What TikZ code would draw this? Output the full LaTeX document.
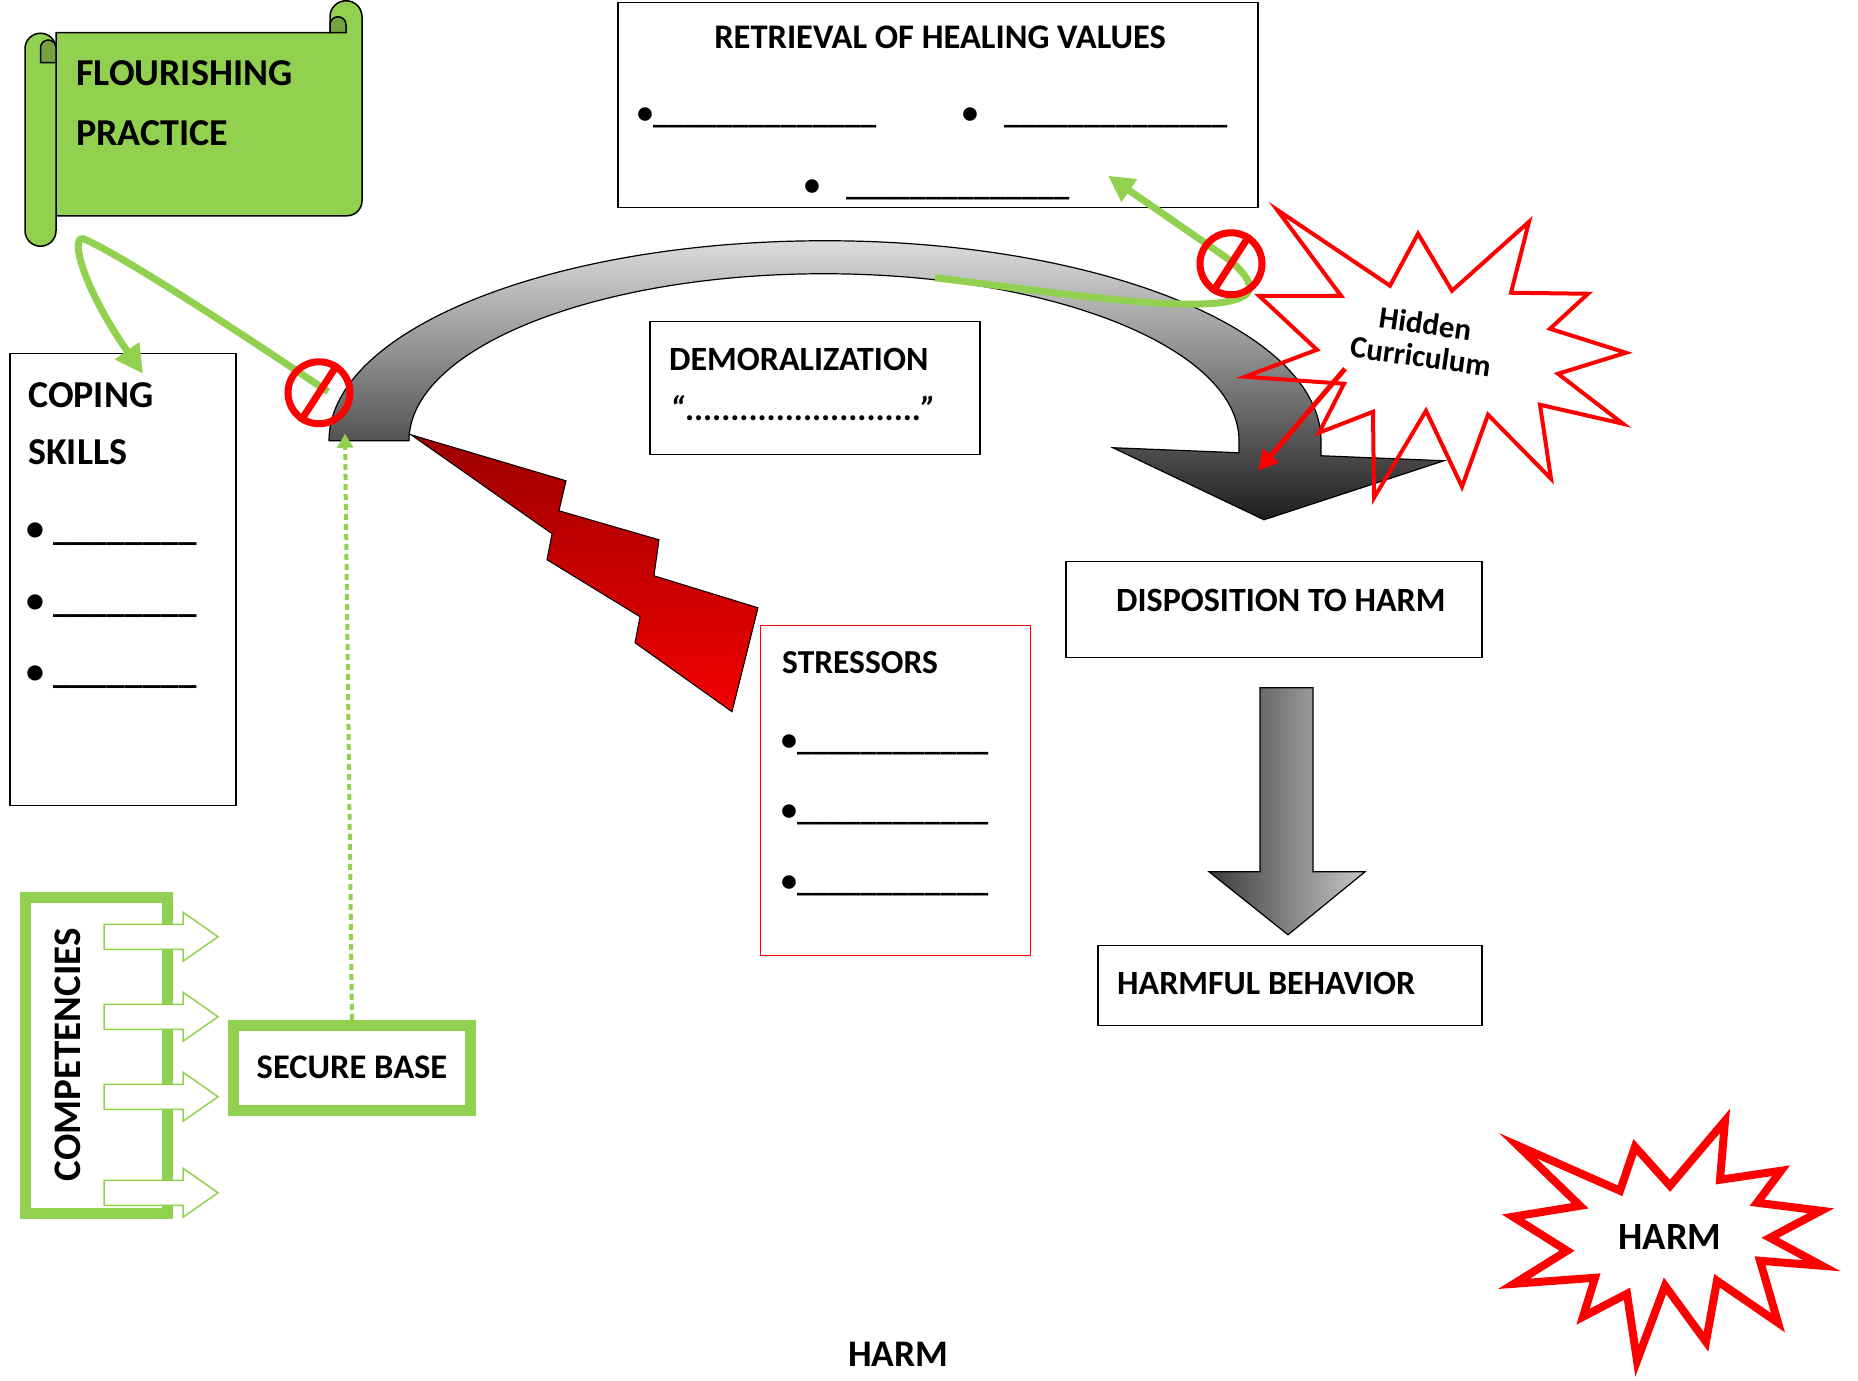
\documentclass[tikz,border=0pt]{standalone}
\usepackage{fontspec}
\setmainfont{Carlito}
\usetikzlibrary{arrows.meta,positioning}
\definecolor{leaf}{HTML}{92D050}
\definecolor{leafdark}{HTML}{76A340}
\definecolor{arctop}{HTML}{DCDCDC}
\definecolor{arcbot}{HTML}{1E1E1E}
\definecolor{boltdark}{HTML}{9E0000}
\definecolor{boltlight}{HTML}{F20000}
\definecolor{dgl}{HTML}{3C3C3C}
\definecolor{dgr}{HTML}{C8C8C8}
\newcommand{\blanks}[1]{\foreach \bj in {1,...,#1}{\_}}

\begin{document}
\begin{tikzpicture}[x=1pt,y=-1pt,
  box/.style={draw=black,line width=1.5pt,anchor=north west,inner sep=0pt},
  txt/.style={anchor=base west,inner sep=0pt,font=\bfseries\fontsize{#1}{#1}\selectfont},
  stop/.style={circle,draw=red,line width=7pt,minimum size=62pt,inner sep=0pt},
  leafline/.style={leaf,line width=7pt,-{Triangle[length=28pt,width=28pt]}},
  star/.style={draw=red,line width=#1,line join=miter}]
\fill[white] (0,0) rectangle (1858,1380);

% scroll
\draw[fill=leaf,line width=1.5pt] (56,32) -- (330,32) -- (330,16) arc[start angle=180,end angle=0,radius=16pt]
  -- (362,200) arc[start angle=0,end angle=-90,radius=15pt] -- (56,215) -- cycle;
\draw[fill=leafdark,line width=1.5pt] (330,32) -- (330,24) arc[start angle=180,end angle=0,radius=8pt] -- (346,32) -- cycle;
\draw[fill=leaf,line width=1.5pt] (25,48) arc[start angle=180,end angle=0,radius=15.5pt]
  -- (56,230) arc[start angle=0,end angle=-180,radius=15.5pt] -- cycle;
\draw[fill=leafdark,line width=1.5pt] (40.5,62) -- (40.5,47) arc[start angle=180,end angle=0,radius=7.75pt] -- (56,62) -- cycle;
\node[txt=38] (flour) at (76,85) {FLOURISHING};
\node[txt=38] (practice) at (76,145) {PRACTICE};

% boxes
\node[box,minimum width=640pt,minimum height=205pt] (retrieval) at (617,1) {};
\node[box,minimum width=226pt,minimum height=452pt] (coping) at (9,352) {};
\node[box,minimum width=330pt,minimum height=133pt] (demoral) at (649,320) {};
\node[box,draw=red,line width=1.2pt,minimum width=270pt,minimum height=330pt] (stress) at (760,624) {};
\node[box,minimum width=416pt,minimum height=96pt] (dispos) at (1065,560) {};
\node[box,minimum width=384pt,minimum height=80pt] (harmful) at (1097,944) {};

\node[txt=34.5,anchor=base] (rettitle) at (940,48) {RETRIEVAL OF HEALING VALUES};
\foreach \x/\y/\gap [count=\k] in {637/123/0,962/123/26,804/195/26}
  \node[txt=32] (retb\k) at (\x,\y) {•\hspace{\gap pt}\blanks{14}};
\node[txt=38] (copt) at (28,407) {COPING};
\node[txt=38] (copt2) at (28,464) {SKILLS};
\foreach \y [count=\k] in {540,612,683}
  \node[txt=36] (copb\k) at (26,\y) {•\hspace{9pt}\blanks{8}};
\node[txt=34] (demt) at (669,370) {DEMORALIZATION};
\node[txt=34] (demq) at (670,420) {{\itshape “}..........................{\itshape ”}};
\node[txt=33.5] (strt) at (782,673) {STRESSORS};
\foreach \y [count=\k] in {750,820,891}
  \node[txt=32] (strb\k) at (781,\y) {•\blanks{12}};
\node[txt=34] (dispt) at (1116,611) {DISPOSITION TO HARM};
\node[txt=34] (harmt) at (1117,994) {HARMFUL BEHAVIOR};

% curved arrow
\shade[draw=black,line width=1.2pt,top color=arctop,bottom color=arcbot]
  (329,440) arc[start angle=180,end angle=0,x radius=496pt,y radius=200pt] -- (1321,455) -- (1444,460)
  -- (1264,519) -- (1113,447) -- (1239,452) -- (1239,440)
  arc[start angle=0,end angle=180,x radius=415pt,y radius=167pt] -- cycle;

% lightning
\shade[draw=black,line width=1pt,top color=boltdark,bottom color=boltlight]
  (411,434) -- (566,480) -- (559,510) -- (659,539) -- (654,575) -- (758,607) -- (732,711)
  -- (635,642) -- (640,616) -- (547,559) -- (552,533) -- cycle;

% hidden curriculum
\draw[star=4pt] (1259,295) -- (1341,295) -- (1277,209) -- (1390,285) -- (1418,233) -- (1452,290)
  -- (1529,221) -- (1511,292) -- (1588,293) -- (1550,328) -- (1626,352) -- (1558,373) -- (1623,423)
  -- (1540,404) -- (1551,478) -- (1488,414) -- (1462,486) -- (1426,410) -- (1374,497) -- (1373,411)
  -- (1319,432) -- (1344,383) -- (1245,376) -- (1317,349) -- cycle;
\node[font=\bfseries\fontsize{31}{33}\selectfont,align=center,rotate=-8] (hidden) at (1423,339) {Hidden\\Curriculum};
\coordinate (redtail) at (1345,368);
\coordinate (redtip) at (1258,470);
\draw[red,line width=5pt,-{Triangle[length=20pt,width=20pt]}] (redtail) -- (redtip);

% green lines
\coordinate (stopa) at (328,391);
\coordinate (copetip) at (143,373);
\coordinate (arcmid) at (935,277);
\coordinate (rettip) at (1108,175);
\draw[leafline] (stopa) .. controls (245,335) and (115,250) .. (83,238)
  .. controls (70,236) and (83,287) .. (copetip);
\draw[leafline,-{Triangle[length=26pt,width=26pt]}] (arcmid) .. controls (1060,292) and (1220,318) .. (1247,293)
  .. controls (1256,284) and (1240,267) .. (1225,256) -- (rettip);

\foreach \n/\x/\y in {nosigna/319/392,nosignb/1231/263}{
  \node[stop] (\n) at (\x,\y) {};
  \draw[red,line width=7pt] (\n.57) -- (\n.237);
}

% down arrow
\shade[draw=black,line width=1.2pt,left color=dgl,right color=dgr]
  (1260,687) -- (1313,687) -- (1313,871) -- (1365,871) -- (1288,934) -- (1209,871) -- (1260,871) -- cycle;

% competencies
\node[draw=leaf,line width=11pt,minimum width=142pt,minimum height=316pt,inner sep=0pt] (comp) at (96.5,1054.5) {};
\node[font=\bfseries\fontsize{39}{39}\selectfont,rotate=90] (compt) at (68,1054) {COMPETENCIES};
\foreach \y in {936,1016,1096,1192}
  \draw[leaf,line width=1.5pt,fill=white] (104,\y-12.5) -- (183,\y-12.5) -- (183,\y-24.5) -- (218,\y)
    -- (183,\y+24.5) -- (183,\y+12.5) -- (104,\y+12.5) -- cycle;
\node[draw=leaf,line width=11pt,minimum width=237pt,minimum height=85pt,inner sep=0pt,
  font=\bfseries\fontsize{34.5}{34.5}\selectfont] (secure) at (352,1067) {SECURE BASE};
\coordinate (arcfoot) at (345,433);
\draw[leaf,line width=4pt,dash pattern=on 6pt off 4pt,-{Triangle[length=14pt,width=16pt]}] (secure.north) -- (arcfoot);

% harm
\draw[star=8pt] (1518,1145) -- (1620,1190) -- (1635,1146) -- (1670,1185) -- (1725,1120) -- (1720,1179)
  -- (1781,1170) -- (1757,1202) -- (1821,1210) -- (1770,1237) -- (1822,1265) -- (1760,1260)
  -- (1778,1322) -- (1717,1280) -- (1706,1341) -- (1665,1285) -- (1637,1360) -- (1627,1293)
  -- (1583,1316) -- (1595,1277) -- (1514,1283) -- (1567,1250) -- (1513,1216) -- (1580,1205) -- cycle;
\node[font=\bfseries\fontsize{38.5}{38.5}\selectfont] (harmc) at (1670,1236) {HARM};
\node[txt=37.5] (harmb) at (848,1366) {HARM};
\end{tikzpicture}
\end{document}
